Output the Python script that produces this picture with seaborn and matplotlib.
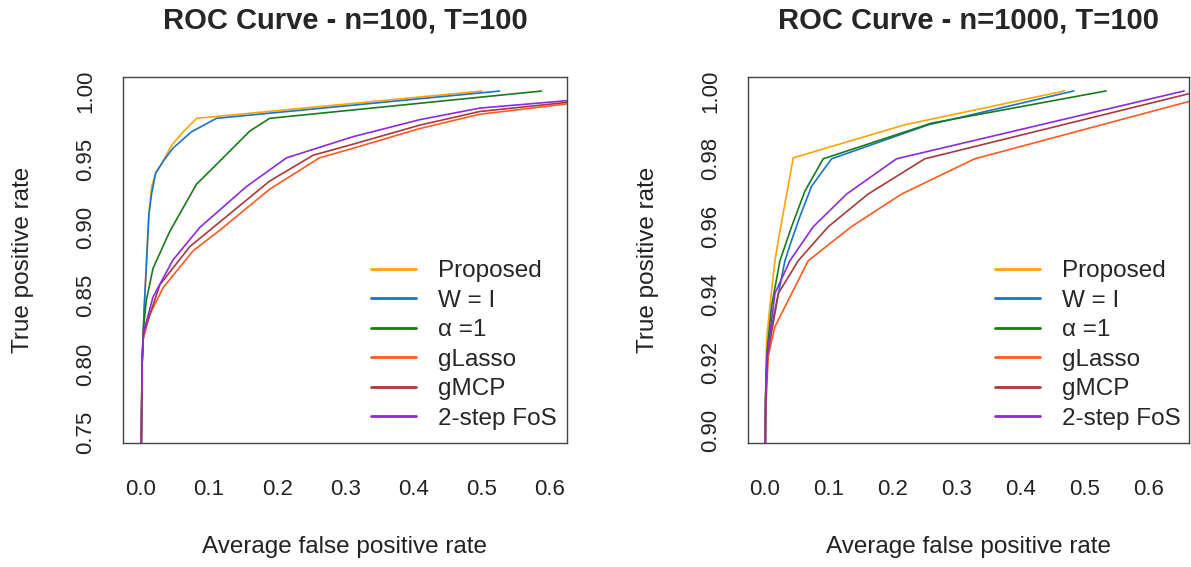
import numpy as np
import pandas as pd
import matplotlib
matplotlib.use("Agg")
import matplotlib.pyplot as plt
import seaborn as sns

methods = ["Proposed", "W = I", "\u03b1 =1", "gLasso", "gMCP", "2-step FoS"]
colors = ["#FFA500", "#1874CD", "#1A7A1A", "#FF5A1F", "#A83A3A", "#8A2BE2"]

# ---- Panel 1: n=100, T=100 ----
p1_proposed_x = [0, 0.002, 0.005, 0.009, 0.012, 0.016, 0.022, 0.032, 0.045, 0.062, 0.082, 0.5]
p1_proposed_y = [0.70, 0.80, 0.84, 0.88, 0.91, 0.93, 0.94, 0.948, 0.96, 0.97, 0.98, 1.0]
p1_wi_x = [0, 0.002, 0.005, 0.009, 0.012, 0.016, 0.022, 0.035, 0.047, 0.074, 0.111, 0.526]
p1_wi_y = [0.70, 0.80, 0.84, 0.88, 0.91, 0.925, 0.94, 0.95, 0.958, 0.97, 0.98, 1.0]
p1_a1_x = [0, 0.002, 0.004, 0.008, 0.018, 0.0425, 0.0816, 0.116, 0.16, 0.189, 0.5875]
p1_a1_y = [0.70, 0.80, 0.826, 0.846, 0.870, 0.897, 0.9316, 0.9487, 0.9707, 0.98, 1.0]
p1_glasso_x = [0, 0.002, 0.003, 0.013, 0.033, 0.077, 0.116, 0.189, 0.262, 0.311, 0.409, 0.497, 0.65]
p1_glasso_y = [0.70, 0.80, 0.817, 0.836, 0.856, 0.883, 0.898, 0.928, 0.951, 0.958, 0.9725, 0.983, 0.992]
p1_gmcp_x = [0, 0.002, 0.004, 0.028, 0.072, 0.111, 0.189, 0.253, 0.311, 0.409, 0.497, 0.65]
p1_gmcp_y = [0.70, 0.80, 0.822, 0.858, 0.886, 0.902, 0.934, 0.953, 0.961, 0.975, 0.985, 0.993]
p1_fos_x = [0, 0.002, 0.004, 0.018, 0.047, 0.0865, 0.155, 0.2136, 0.311, 0.409, 0.497, 0.65]
p1_fos_y = [0.70, 0.80, 0.823, 0.849, 0.876, 0.900, 0.930, 0.951, 0.9665, 0.979, 0.9875, 0.994]

# ---- Panel 2: n=1000, T=100 ----
p2_proposed_x = [0, 0.001, 0.0026, 0.0078, 0.0156, 0.0208, 0.0442, 0.218, 0.468]
p2_proposed_y = [0.88, 0.91, 0.9269, 0.9367, 0.950, 0.956, 0.9803, 0.990, 1.0]
p2_wi_x = [0, 0.001, 0.003, 0.0104, 0.021, 0.0312, 0.0416, 0.0546, 0.0728, 0.104, 0.255, 0.4826]
p2_wi_y = [0.88, 0.91, 0.922, 0.9306, 0.9404, 0.950, 0.956, 0.963, 0.9719, 0.980, 0.990, 1.0]
p2_a1_x = [0, 0.001, 0.003, 0.0104, 0.0234, 0.0416, 0.0624, 0.091, 0.26, 0.533]
p2_a1_y = [0.88, 0.91, 0.923, 0.9367, 0.950, 0.960, 0.9705, 0.980, 0.9905, 1.0]
p2_glasso_x = [0, 0.001, 0.0052, 0.0156, 0.0676, 0.135, 0.2132, 0.3276, 0.724]
p2_glasso_y = [0.88, 0.905, 0.922, 0.9306, 0.950, 0.960, 0.9696, 0.980, 1.0]
p2_gmcp_x = [0, 0.001, 0.004, 0.021, 0.052, 0.0988, 0.161, 0.2496, 0.68]
p2_gmcp_y = [0.88, 0.908, 0.922, 0.9404, 0.950, 0.960, 0.9696, 0.980, 1.0]
p2_fos_x = [0, 0.001, 0.0035, 0.0156, 0.039, 0.0754, 0.1274, 0.2054, 0.655]
p2_fos_y = [0.88, 0.909, 0.922, 0.9404, 0.950, 0.960, 0.9696, 0.980, 1.0]

titles = ["ROC Curve - n=100, T=100", "ROC Curve - n=1000, T=100"]
x_ticks = [0.0, 0.1, 0.2, 0.3, 0.4, 0.5, 0.6]
y_ticks_1 = [0.75, 0.80, 0.85, 0.90, 0.95, 1.00]
y_ticks_2 = [0.90, 0.92, 0.94, 0.96, 0.98, 1.00]


def build(series):
    rows = []
    for m, (xs, ys) in zip(methods, series):
        for i, (x, y) in enumerate(zip(xs, ys)):
            rows.append({"method": m, "fpr": x, "tpr": y, "order": i})
    return pd.DataFrame(rows)


df1 = build([(p1_proposed_x, p1_proposed_y), (p1_wi_x, p1_wi_y), (p1_a1_x, p1_a1_y),
             (p1_glasso_x, p1_glasso_y), (p1_gmcp_x, p1_gmcp_y), (p1_fos_x, p1_fos_y)])
df2 = build([(p2_proposed_x, p2_proposed_y), (p2_wi_x, p2_wi_y), (p2_a1_x, p2_a1_y),
             (p2_glasso_x, p2_glasso_y), (p2_gmcp_x, p2_gmcp_y), (p2_fos_x, p2_fos_y)])

sns.set_theme(style="white")
plt.rcParams["font.family"] = ["Liberation Sans", "DejaVu Sans"]

fig = plt.figure(figsize=(11.91, 5.67), dpi=100)
ax1 = fig.add_axes([123 / 1191, 1 - 443 / 567, 444 / 1191, 366 / 567])
ax2 = fig.add_axes([748 / 1191, 1 - 443 / 567, 441 / 1191, 366 / 567])

palette = dict(zip(methods, colors))
configs = [
    (ax1, df1, (-0.026, 0.625), (0.742, 1.0103), y_ticks_1, "%.2f"),
    (ax2, df2, (-0.0265, 0.6625), (0.8963, 1.0041), y_ticks_2, "%.2f"),
]
for k, (ax, df, xl, yl, yt, fmt) in enumerate(configs):
    sns.lineplot(data=df, x="fpr", y="tpr", hue="method", hue_order=methods,
                 palette=palette, sort=False, estimator=None, units="method",
                 linewidth=1.2, ax=ax)
    ax.set_xlim(*xl)
    ax.set_ylim(*yl)
    ax.set_xticks(x_ticks)
    ax.set_xticklabels(["%.1f" % t for t in x_ticks])
    ax.set_yticks(yt)
    ax.set_yticklabels([fmt % t for t in yt], rotation=90, va="center")
    ax.tick_params(axis="both", direction="out", length=10, width=1, color="#333333",
                   labelsize=16, labelcolor="#222222")
    ax.tick_params(axis="x", pad=16)
    ax.tick_params(axis="y", pad=9)
    for s in ax.spines.values():
        s.set_visible(True)
        s.set_color("#444444")
        s.set_linewidth(1.0)
    ax.set_xlabel("Average false positive rate", fontsize=17.5, labelpad=26, color="#222222")
    ax.set_ylabel("True positive rate", fontsize=17.5, labelpad=30, color="#222222")
    ax.set_title(titles[k], fontsize=21, fontweight="bold", pad=35)
    leg = ax.legend(loc="lower left", bbox_to_anchor=(0.559 if k == 0 else 0.56, 0.036),
                    frameon=False, fontsize=17.5, handlelength=1.85, handletextpad=0.9,
                    labelspacing=0.31, borderpad=0, borderaxespad=0)
    for h in leg.get_lines():
        h.set_linewidth(2.0)

fig.savefig("out.png", dpi=100)
